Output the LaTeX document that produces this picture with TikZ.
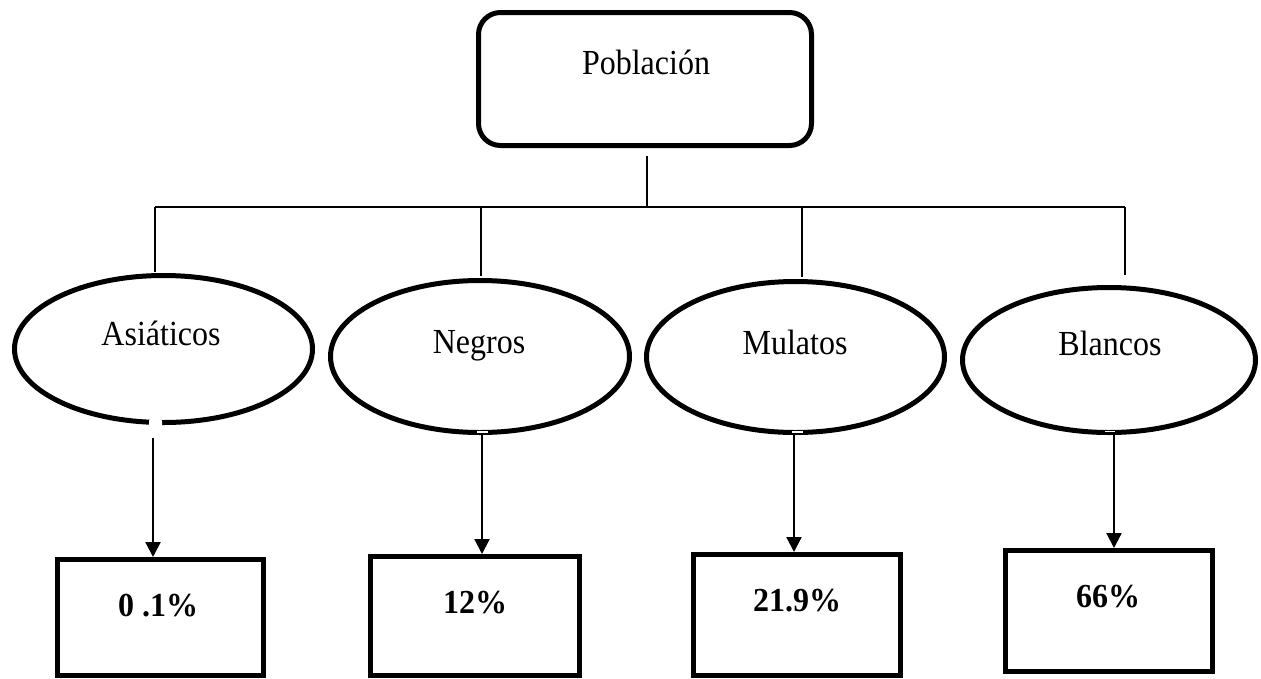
\documentclass[tikz,border=0pt]{standalone}
\usepackage{fontspec}
\setmainfont{Liberation Serif}
\usetikzlibrary{shapes.geometric,arrows.meta}
\newcommand{\tall}[1]{\scalebox{1}[1.1]{#1}}
\begin{document}
\begin{tikzpicture}[x=1pt,y=-1pt,
  pobbox/.style={draw, line width=5pt, rounded corners=22pt, minimum width=333pt, minimum height=133pt, inner sep=0pt},
  grupo/.style={draw, ellipse, line width=5pt, inner sep=0pt},
  pctbox/.style={draw, line width=5pt, rectangle, inner sep=0pt},
  lbl/.style={anchor=base, inner sep=0pt, font=\fontsize{32}{38}\selectfont},
  pct/.style={anchor=base, inner sep=0pt, font=\fontsize{32}{38}\selectfont\bfseries},
  tree/.style={line width=1.3pt},
  arr/.style={line width=2.2pt, -{Triangle[width=15pt,length=15pt]}},
  notch/.style={fill=white, draw=none}
]
\useasboundingbox (0,0) rectangle (1261,678);

% top box
\node[pobbox] (pob) at (645,79) {};
\node[lbl] (tpob) at (646,74) {\tall{Población}};

% ellipses
\node[grupo, minimum width=298pt, minimum height=147pt] (eA) at (163.5,349) {};
\node[grupo, minimum width=299pt, minimum height=152pt] (eN) at (480,356.5) {};
\node[grupo, minimum width=298pt, minimum height=151pt] (eM) at (795.5,357) {};
\node[grupo, minimum width=293pt, minimum height=145pt] (eB) at (1109,360) {};

\node[lbl] (tA) at (161,345) {\tall{Asiáticos}};
\node[lbl] (tN) at (479,353) {\tall{Negros}};
\node[lbl] (tM) at (795,354) {\tall{Mulatos}};
\node[lbl] (tB) at (1110,355) {\tall{Blancos}};

% small notches at ellipse bottoms
\fill[notch, rounded corners=2pt] (149,419) rectangle (162,427);
\fill[notch] (477,430.5) rectangle (488,432.5);
\fill[notch] (792,430.5) rectangle (803,432.5);
\fill[notch] (1105,430.5) rectangle (1115,432);

% percentage boxes
\node[pctbox, minimum width=206pt, minimum height=116pt] (bA) at (160.5,617.5) {};
\node[pctbox, minimum width=209pt, minimum height=119pt] (bN) at (475,616) {};
\node[pctbox, minimum width=207pt, minimum height=121pt] (bM) at (797,615) {};
\node[pctbox, minimum width=207pt, minimum height=121pt] (bB) at (1109,611) {};

\node[pct] (pA) at (158,616) {\scalebox{1}[1.05]{0 .1\%}};
\node[pct] (pN) at (475,613) {\scalebox{1}[1.05]{12\%}};
\node[pct] (pM) at (797,611) {\scalebox{1}[1.05]{21.9\%}};
\node[pct] (pB) at (1108,607) {\scalebox{1}[1.05]{66\%}};

% tree connectors
\coordinate (hub) at (647,207);
\coordinate (hA) at (155,207);
\coordinate (hN) at (481,207);
\coordinate (hM) at (802,207);
\coordinate (hB) at (1125,207);
\coordinate (dA) at (155,272);
\coordinate (dN) at (481,276);
\coordinate (dM) at (802,277);
\coordinate (dB) at (1125,275);

\draw[tree] ([xshift=2pt,yshift=-8pt]pob.south) -- (hub);
\draw[tree] (hA) -- (hB);
\draw[tree] (hA) -- (dA);
\draw[tree] (hN) -- (dN);
\draw[tree] (hM) -- (dM);
\draw[tree] (hB) -- (dB);

% arrows
\coordinate (sA) at (153,438);
\coordinate (sN) at (482,433);
\coordinate (sM) at (794,433);
\coordinate (sB) at (1114,433);
\draw[arr] (sA) -- (sA |- bA.north);
\draw[arr] (sN) -- (sN |- bN.north);
\draw[arr] (sM) -- (sM |- bM.north);
\draw[arr] (sB) -- (sB |- bB.north);
\end{tikzpicture}
\end{document}
